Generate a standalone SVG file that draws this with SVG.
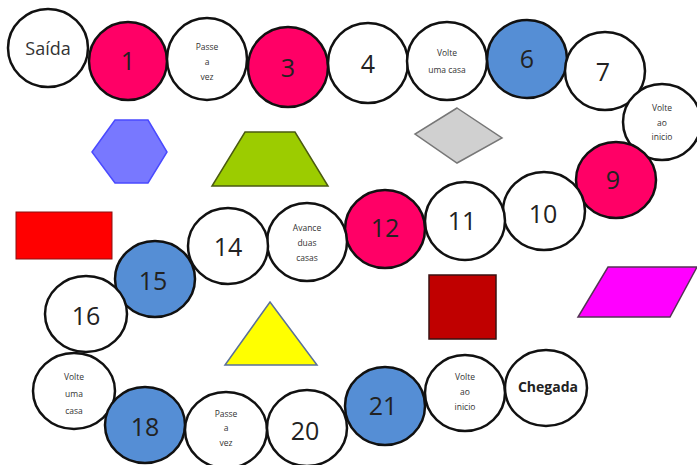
<svg xmlns="http://www.w3.org/2000/svg" width="697" height="465" viewBox="0 0 697 465">
<style>
.c{stroke:#111;stroke-width:2.5}
.w{fill:#fff}
.p{fill:#ff0066}
.b{fill:#558ed5}
.n{font-family:"Open Sans","Liberation Sans",sans-serif;font-size:25px;fill:#222;text-anchor:middle}
.s{font-family:"Open Sans","Liberation Sans",sans-serif;font-size:8.5px;fill:#333;text-anchor:middle}
.m{font-family:"Open Sans","Liberation Sans",sans-serif;font-size:18px;fill:#333;text-anchor:middle}
.k{font-family:"Open Sans","Liberation Sans",sans-serif;font-size:14px;font-weight:bold;fill:#222;text-anchor:middle}
</style>
<rect width="697" height="465" fill="#fff"/>
<g id="shapes">
<polygon points="92,152 115,120 148,120 167,152 148,183 115,183" fill="#7878ff" stroke="#4a4aff" stroke-width="1.5"/>
<polygon points="245,132 295,132 328,186 212,186" fill="#9ccc00" stroke="#4a5a10" stroke-width="1.5"/>
<rect x="16" y="212" width="96" height="47" fill="#ff0000" stroke="#8a1010" stroke-width="1"/>
<polygon points="457,108 502,138 457,163 415,134" fill="#d0d0d0" stroke="#777" stroke-width="1.5"/>
<rect x="429" y="275" width="67" height="64" fill="#c00000" stroke="#3a1010" stroke-width="1.5"/>
<polygon points="608,267 697,267 670,317 578,317" fill="#ff00ff" stroke="#553355" stroke-width="1.5"/>
<polygon points="270,302 317,365 225,365" fill="#ffff00" stroke="#5a7099" stroke-width="1.5"/>
</g>
<g id="connectors"/>
<g id="n-saida"><ellipse class="c w" cx="48" cy="48" rx="40" ry="39"/><text class="m" x="48" y="55">Saída</text></g>
<g id="n1"><circle class="c p" cx="128" cy="61" r="39"/><text class="n" x="128" y="70">1</text></g>
<g id="n2"><ellipse class="c w" cx="207" cy="59" rx="40" ry="41"/><text class="s" x="207" y="50">Passe</text><text class="s" x="207" y="65">a</text><text class="s" x="207" y="80">vez</text></g>
<g id="n3"><circle class="c p" cx="288" cy="67" r="40"/><text class="n" x="288" y="77">3</text></g>
<g id="n4"><circle class="c w" cx="368" cy="63" r="40"/><text class="n" x="368" y="73">4</text></g>
<g id="n5"><ellipse class="c w" cx="447" cy="61" rx="40" ry="39"/><text class="s" x="447" y="56">Volte</text><text class="s" x="447" y="73">uma casa</text></g>
<g id="n6"><ellipse class="c b" cx="527" cy="59" rx="40" ry="39"/><text class="n" x="527" y="68">6</text></g>
<g id="n7"><ellipse class="c w" cx="605" cy="71" rx="40" ry="39"/><text class="n" x="603" y="81">7</text></g>
<g id="n8"><ellipse class="c w" cx="662" cy="122" rx="39" ry="38"/><text class="s" x="662" y="111">Volte</text><text class="s" x="662" y="126">ao</text><text class="s" x="662" y="140">inicio</text></g>
<g id="n9"><ellipse class="c p" cx="616" cy="180" rx="40" ry="38"/><text class="n" x="613" y="189">9</text></g>
<g id="n10"><ellipse class="c w" cx="544" cy="211" rx="41" ry="39"/><text class="n" x="543" y="223">10</text></g>
<g id="n11"><ellipse class="c w" cx="465" cy="221" rx="40" ry="39"/><text class="n" x="462" y="230">11</text></g>
<g id="n12"><ellipse class="c p" cx="385" cy="229" rx="40" ry="39"/><text class="n" x="385" y="237">12</text></g>
<g id="n13"><ellipse class="c w" cx="307" cy="242" rx="40" ry="39"/><text class="s" x="307" y="231">Avance</text><text class="s" x="307" y="246">duas</text><text class="s" x="307" y="261">casas</text></g>
<g id="n14"><ellipse class="c w" cx="228" cy="246" rx="40" ry="38"/><text class="n" x="228" y="256">14</text></g>
<g id="n15"><ellipse class="c b" cx="155" cy="279" rx="40" ry="38"/><text class="n" x="153" y="290">15</text></g>
<g id="n16"><ellipse class="c w" cx="86" cy="314" rx="41" ry="38"/><text class="n" x="86" y="325">16</text></g>
<g id="n17"><ellipse class="c w" cx="74" cy="391" rx="41" ry="38"/><text class="s" x="74" y="380">Volte</text><text class="s" x="74" y="397">uma</text><text class="s" x="74" y="414">casa</text></g>
<g id="n18"><ellipse class="c b" cx="145" cy="425" rx="40" ry="38"/><text class="n" x="145" y="436">18</text></g>
<g id="n19"><ellipse class="c w" cx="226" cy="430" rx="41" ry="38"/><text class="s" x="226" y="417">Passe</text><text class="s" x="226" y="431">a</text><text class="s" x="226" y="446">vez</text></g>
<g id="n20"><ellipse class="c w" cx="307" cy="428" rx="40" ry="38"/><text class="n" x="305" y="440">20</text></g>
<g id="n21"><ellipse class="c b" cx="385" cy="406" rx="40" ry="39"/><text class="n" x="383" y="415">21</text></g>
<g id="n22"><ellipse class="c w" cx="465" cy="393" rx="40" ry="38"/><text class="s" x="465" y="380">Volte</text><text class="s" x="465" y="395">ao</text><text class="s" x="465" y="410">inicio</text></g>
<g id="n-chegada"><ellipse class="c w" cx="546" cy="388" rx="41" ry="38"/><text class="k" x="548" y="392">Chegada</text></g>
</svg>
